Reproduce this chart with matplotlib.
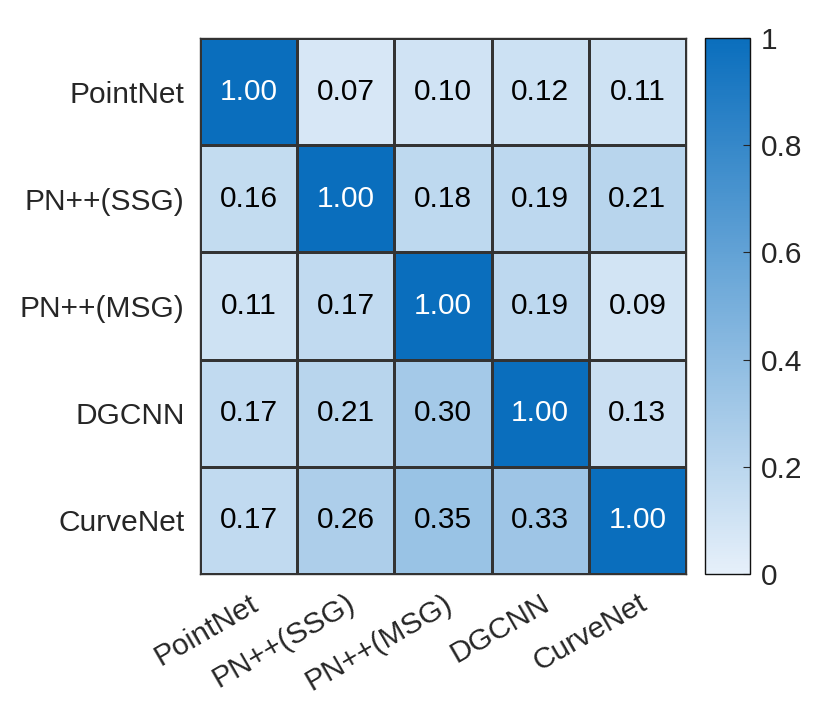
import numpy as np
import matplotlib.pyplot as plt
from matplotlib.colors import LinearSegmentedColormap

models = ["PointNet", "PN++(SSG)", "PN++(MSG)", "DGCNN", "CurveNet"]
values = np.array([
    [1.00, 0.07, 0.10, 0.12, 0.11],
    [0.16, 1.00, 0.18, 0.19, 0.21],
    [0.11, 0.17, 1.00, 0.19, 0.09],
    [0.17, 0.21, 0.30, 1.00, 0.13],
    [0.17, 0.26, 0.35, 0.33, 1.00],
])

plt.rcParams['font.family'] = ['Liberation Sans', 'DejaVu Sans']
cmap = LinearSegmentedColormap.from_list("mblue", ["#e6f0fa", "#0a6ebd"])

fig = plt.figure(figsize=(8.31, 7.19), dpi=100)
ax = fig.add_axes([0.2407, 0.2017, 0.5848, 0.7454])
cax = fig.add_axes([0.8484, 0.2017, 0.0542, 0.7454])

n = len(models)
mesh = ax.pcolormesh(np.arange(n + 1), np.arange(n + 1), values, cmap=cmap,
                     vmin=0, vmax=1, edgecolors="#333333", linewidth=0.8)
ax.set_xlim(0, n)
ax.set_ylim(n, 0)

for i in range(n):
    for j in range(n):
        v = values[i, j]
        ax.text(j + 0.5, i + 0.5, f"{v:.2f}", ha="center", va="center",
                fontsize=21.5, color="white" if v > 0.6 else "black")

ax.set_xticks(np.arange(n) + 0.5)
ax.set_yticks(np.arange(n) + 0.5)
ax.set_xticklabels(models, rotation=30, ha="right", rotation_mode="anchor",
                   fontsize=21.5, color="#262626")
ax.set_yticklabels(models, fontsize=21.5, color="#262626")
ax.tick_params(length=0, pad=11)
for s in ax.spines.values():
    s.set_color("#333333")
    s.set_linewidth(1.0)

cb = fig.colorbar(mesh, cax=cax)
cb.set_ticks([0, 0.2, 0.4, 0.6, 0.8, 1])
cb.set_ticklabels(["0", "0.2", "0.4", "0.6", "0.8", "1"])
cax.tick_params(labelsize=21.5, direction="in", length=5, colors="#262626", pad=8)
cb.outline.set_linewidth(1.0)
cb.outline.set_edgecolor("#111111")

fig.savefig("out.png", dpi=100)
